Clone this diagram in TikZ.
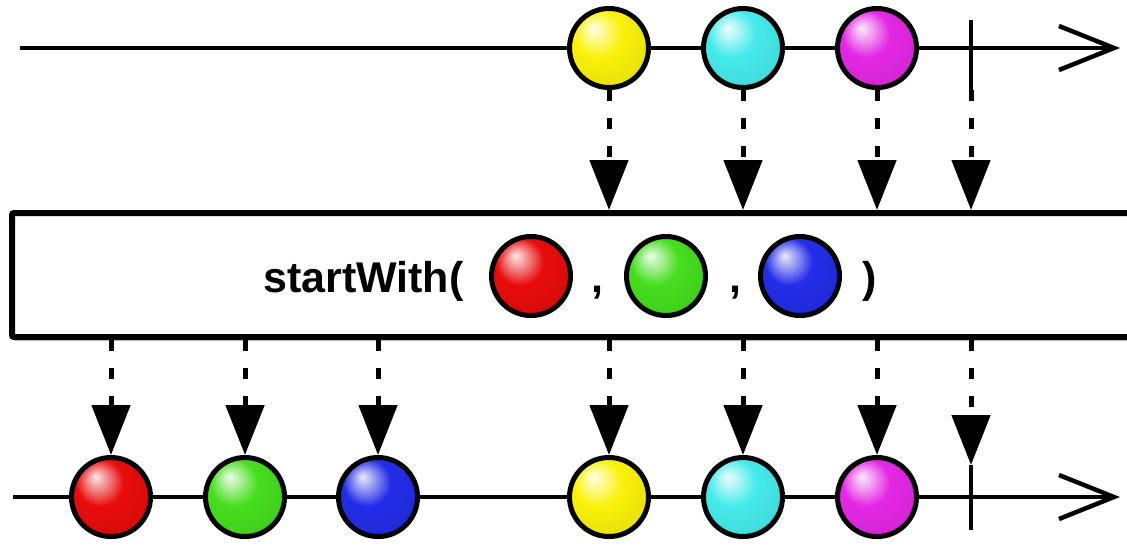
\documentclass[tikz,border=0pt]{standalone}
\usepackage{fontspec}
\newfontfamily\opfont{Liberation Sans}
\usetikzlibrary{arrows.meta,shadows}
\definecolor{mbyellow}{RGB}{250,242,10}
\definecolor{mbcyan}{RGB}{70,235,235}
\definecolor{mbmagenta}{RGB}{228,40,228}
\definecolor{mbred}{RGB}{232,12,12}
\definecolor{mbgreen}{RGB}{70,222,30}
\definecolor{mbblue}{RGB}{35,45,232}
\colorlet{ballfill}{red}
\pgfdeclareradialshading[ballfill]{gloss}{\pgfpoint{-10bp}{13bp}}{%
  color(0bp)=(ballfill!10!white); color(6bp)=(ballfill!45!white);
  color(15bp)=(ballfill); color(30bp)=(ballfill!93!black);
  color(42bp)=(ballfill!75!black); color(50bp)=(ballfill!65!black)}

\begin{document}
\begin{tikzpicture}[x=1pt, y=-1pt, >=Latex,
  tl/.style={line width=4.5pt, -{Straight Barb[length=55pt, width=44pt]}},
  tick/.style={line width=4.5pt},
  flow/.style={line width=5pt, dash pattern=on 11pt off 17pt,
               -{Triangle[length=50pt, width=38pt]}},
  marble/.style={circle, draw=black, line width=5pt, minimum size=79pt, inner sep=0pt,
                 shading=gloss, /utils/exec={\colorlet{ballfill}{#1}},
                 drop shadow={opacity=.2, shadow xshift=1pt, shadow yshift=-3pt}},
  opbox/.style={draw=black, fill=white, line width=6pt, rounded corners=2pt,
                drop shadow={opacity=.35, shadow xshift=2pt, shadow yshift=-4pt}},
  optext/.style={font=\opfont\bfseries\fontsize{43}{50}\selectfont, inner sep=0pt}]
\useasboundingbox (0,0) rectangle (1127,546);

% --- operator box ---
\node[opbox, minimum width=1138pt, minimum height=124pt] (op) at (581,275) {};
\node[optext, anchor=base west] (name) at (263,292) {startWith(};
\node[marble=mbred] (sr) at (531,276) {};
\node[optext, anchor=base] (c1) at (597,292) {,};
\node[marble=mbgreen] (sg) at (666,276) {};
\node[optext, anchor=base] (c2) at (735,292) {,};
\node[marble=mbblue] (sb) at (800,276) {};
\node[optext, anchor=base] (cl) at (870,292) {)};

% --- source timeline ---
\coordinate (tstart) at (20,48);
\coordinate (tend) at (1120,48);
\draw[tl] (tstart) -- (tend);
\coordinate (tktop) at (971,20);
\coordinate (tkt) at (971,90);
\draw[tick] (tktop) -- (tkt);
\foreach \x/\c/\n in {609/mbyellow/ty, 743/mbcyan/tc, 877/mbmagenta/tm}
  \node[marble=\c] (\n) at (\x,48) {};

% --- result timeline ---
\coordinate (bstart) at (13,497);
\coordinate (bend) at (1120,497);
\draw[tl] (bstart) -- (bend);
\coordinate (tkb) at (971,465);
\coordinate (tkbot) at (971,530);
\draw[tick] (tkb) -- (tkbot);
\foreach \x/\c/\n in {111/mbred/br, 245/mbgreen/bg, 378/mbblue/bb,
                      609/mbyellow/by, 743/mbcyan/bc, 877/mbmagenta/bm}
  \node[marble=\c] (\n) at (\x,497) {};

% --- emissions ---
\foreach \n in {ty,tc,tm}
  \draw[flow] (\n.south) -- (\n.south |- op.north);
\draw[flow] (tkt) -- (tkt |- op.north);
\foreach \n in {br,bg,bb,by,bc,bm}
  \draw[flow] (\n.north |- op.south) -- (\n.north);
\draw[flow] (tkb |- op.south) -- (tkb);
\end{tikzpicture}
\end{document}
